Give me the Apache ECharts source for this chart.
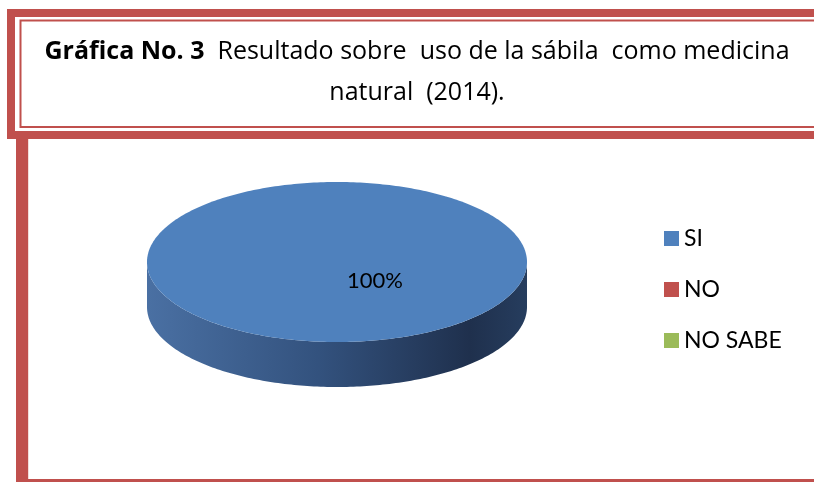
<!DOCTYPE html>
<html>
<head>
<meta charset="utf-8">
<script src="https://cdn.jsdelivr.net/npm/echarts@6/dist/echarts.min.js"></script>
<style>
html,body{margin:0;padding:0;background:#fff;}
#c{width:814px;height:482px;}
</style>
</head>
<body>
<div id="c"></div>
<script>
// ---- data ----
const categories = ['SI', 'NO', 'NO SABE'];
const values = [100, 0, 0];
const colors = ['#4f81bd', '#c0504d', '#9bbb59'];
const sideColors = [
  ['#4a70a3', '#33527e', '#1f304d', '#263d5e'],
  ['#a8413f', '#8a3331', '#6a2524', '#7a2b2a'],
  ['#88a64b', '#708a3c', '#56692e', '#637a35']
];
const titleBold = 'Gráfica No. 3';
const titleRest = '  Resultado sobre  uso de la sábila  como medicina';
const titleLine2 = 'natural  (2014).';

// ---- geometry ----
const FONT = 'Lato';
const TFONT = 'Open Sans';
const PIE = { cx: 337, cy: 262, rx: 190, ry: 80, depth: 45 };
const total = values.reduce((a, b) => a + b, 0);

function pt(theta, dy) {
  return [PIE.cx + PIE.rx * Math.sin(theta), PIE.cy - PIE.ry * Math.cos(theta) + (dy || 0)];
}
function arc(a0, a1, dy) {
  const pts = [];
  const n = Math.max(2, Math.ceil(Math.abs(a1 - a0) / (Math.PI / 180)));
  for (let i = 0; i <= n; i++) pts.push(pt(a0 + (a1 - a0) * i / n, dy));
  return pts;
}

function makeRender(idx) {
  return function (params, api) {
    const v = api.value(0);
    if (!v) return { type: 'group', children: [] };
    let before = 0;
    for (let i = 0; i < idx; i++) before += values[i];
    const a0 = before / total * Math.PI * 2;
    const a1 = (before + v) / total * Math.PI * 2;
    const children = [];
    const lo = Math.max(a0, Math.PI / 2), hi = Math.min(a1, Math.PI * 1.5);
    const sc = sideColors[idx];
    if (hi > lo) {
      const top = arc(lo, hi, 0);
      const bot = arc(hi, lo, PIE.depth);
      children.push({
        type: 'polygon',
        shape: { points: top.concat(bot) },
        style: {
          fill: {
            type: 'linear', x: PIE.cx - PIE.rx, y: 0, x2: PIE.cx + PIE.rx, y2: 0, global: true,
            colorStops: [
              { offset: 0, color: sc[0] },
              { offset: 0.45, color: sc[1] },
              { offset: 0.85, color: sc[2] },
              { offset: 1, color: sc[3] }
            ]
          }
        }
      });
    }
    let facePts = arc(a0, a1, 0);
    if (a1 - a0 < Math.PI * 2 - 1e-9) facePts = [[PIE.cx, PIE.cy]].concat(facePts);
    children.push({
      type: 'polygon',
      shape: { points: facePts },
      style: { fill: colors[idx] }
    });
    const pct = Math.round(v / total * 100) + '%';
    children.push({
      type: 'text',
      x: PIE.cx + PIE.rx * 0.2,
      y: PIE.cy + PIE.ry * 0.24,
      style: {
        text: pct, fontFamily: FONT, fontSize: 22, fill: '#000',
        align: 'center', verticalAlign: 'middle'
      }
    });
    return { type: 'group', children: children };
  };
}

const chart = echarts.init(document.getElementById('c'), null, { renderer: 'canvas' });

const RED = '#c0504d';
const PINK = '#f2dcdb';

chart.setOption({
  animation: false,
  backgroundColor: '#ffffff',
  legend: {
    orient: 'vertical',
    left: 664,
    top: 227,
    padding: 0,
    itemWidth: 15,
    itemHeight: 15,
    itemGap: 28,
    icon: 'rect',
    selectedMode: false,
    data: categories,
    textStyle: { fontFamily: FONT, fontSize: 23, color: '#000' }
  },
  series: categories.map((name, i) => ({
    type: 'custom',
    name: name,
    coordinateSystem: 'none',
    silent: true,
    itemStyle: { color: colors[i] },
    renderItem: makeRender(i),
    data: [[values[i]]]
  })),
  graphic: [
    { type: 'rect', shape: { x: 11, y: 13, width: 830, height: 122 },
      style: { fill: null, stroke: RED, lineWidth: 8 } },
    { type: 'rect', shape: { x: 20.5, y: 20.5, width: 830, height: 106.5 },
      style: { fill: null, stroke: RED, lineWidth: 2 } },
    { type: 'rect', shape: { x: 16, y: 139, width: 12, height: 350 },
      style: { fill: RED } },
    { type: 'rect', shape: { x: 28, y: 139, width: 1, height: 340 },
      style: { fill: PINK } },
    { type: 'rect', shape: { x: 16, y: 479, width: 820, height: 10 },
      style: { fill: RED } },
    { type: 'text', x: 417, y: 52,
      style: {
        text: '{b|' + titleBold + '}{r|' + titleRest + '}',
        align: 'center', verticalAlign: 'middle',
        rich: {
          b: { fontFamily: TFONT, fontSize: 25, fontWeight: 'bold', fill: '#000', color: '#000' },
          r: { fontFamily: TFONT, fontSize: 25, fill: '#000', color: '#000' }
        }
      } },
    { type: 'text', x: 417, y: 93,
      style: {
        text: titleLine2, fontFamily: TFONT, fontSize: 25, fill: '#000',
        align: 'center', verticalAlign: 'middle'
      } }
  ]
});
</script>
</body>
</html>
